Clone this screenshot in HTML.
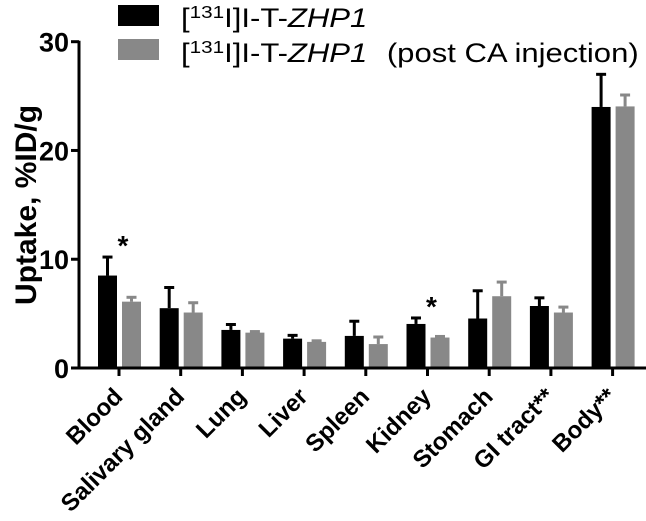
<!DOCTYPE html>
<html><head><meta charset="utf-8"><style>
body{margin:0;background:#fff;}
svg text{font-family:"Liberation Sans",Arial,sans-serif;}
</style></head><body>
<svg id="chart" width="646" height="516">
<g id="plot"></g>
</svg>
<script>
const categories=["Blood","Salivary gland","Lung","Liver","Spleen","Kidney","Stomach","GI tract**","Body**"];
const seriesA=[8.5,5.5,3.5,2.7,2.95,4.05,4.55,5.7,24.0];
const errA=[1.7,1.9,0.5,0.3,1.35,0.55,2.55,0.75,3.0];
const seriesB=[6.1,5.1,3.25,2.4,2.2,2.8,6.6,5.1,24.05];
const errB=[0.4,0.9,0.1,0.1,0.65,0.1,1.3,0.5,1.05];
const yTicks=[0,10,20,30];
const starCats=["Blood","Kidney"];
const NS="http://www.w3.org/2000/svg";
const g=document.getElementById('plot');
const y0=368,y30=41.7;
function y(v){return y0-(v/30)*(y0-y30);}
function x(i){return 119+i*61.7;}
function mk(t,a,p){const e=document.createElementNS(NS,t);for(const k in a)e.setAttribute(k,a[k]);(p||g).appendChild(e);return e;}
categories.forEach((c,i)=>{
  [[seriesA,errA,"#000",-21],[seriesB,errB,"#888",3]].forEach(([s,er,col,off],j)=>{
    const bx=x(i)+off,w=19,cx=bx+w/2;
    const r=mk('rect',{x:bx,y:y(s[i]),width:w,height:y0-y(s[i]),fill:col});
    
    
    const l=mk('line',{x1:cx,x2:cx,y1:y(s[i]),y2:y(s[i]+er[i]),stroke:col,'stroke-width':3});
    
    
    const cp=mk('line',{x1:cx-5,x2:cx+5,y1:y(s[i]+er[i]),y2:y(s[i]+er[i]),stroke:col,'stroke-width':3});
    
    
  });
  const tk=mk('line',{x1:x(i),x2:x(i),y1:y0,y2:y0+8,stroke:"#000",'stroke-width':3});
  
  
  const t=mk('text',{transform:`translate(${x(i)+5},${y0+30}) rotate(-45)`,'text-anchor':'end','font-size':24,'font-weight':'bold'});
  t.textContent=c;
  
  
  if(starCats.includes(c)){
    const s=mk('text',{x:x(i)+4,y:y(Math.max(seriesA[i]+errA[i],seriesB[i]+errB[i]))-2,'font-size':28,'font-weight':'bold','text-anchor':'middle'});
    s.textContent='*';
    
    
  }
});
const ya=mk('line',{x1:79,x2:79,y1:y30-1,y2:y0+1.5,stroke:"#000",'stroke-width':3});


const xa=mk('line',{x1:77.5,x2:646,y1:y0,y2:y0,stroke:"#000",'stroke-width':3});


yTicks.forEach(v=>{
  const tk=mk('line',{x1:71,x2:79,y1:y(v),y2:y(v),stroke:"#000",'stroke-width':3});
  
  
  const t=mk('text',{x:69,y:y(v)+10,'text-anchor':'end','font-size':27,'font-weight':'bold'});
  t.textContent=v;
  
  
});
const yt=mk('text',{transform:'translate(36,205) rotate(-90)','text-anchor':'middle','font-size':30,'font-weight':'bold'});
yt.textContent='Uptake, %ID/g';


const lg=mk('g',{});


const b1=mk('rect',{x:118,y:5,width:41,height:21,fill:'#000'},lg);


const b2=mk('rect',{x:118,y:39,width:41,height:21,fill:'#888'},lg);


const t1=mk('text',{transform:'translate(181,27) scale(1.15,1)','font-size':27},lg);
t1.innerHTML='[<tspan dy="-9" font-size="18">131</tspan><tspan dy="9">I]I-T-</tspan><tspan font-style="italic">ZHP1</tspan>';


const t2=mk('text',{transform:'translate(181,62) scale(1.15,1)','font-size':27},lg);
t2.innerHTML='[<tspan dy="-9" font-size="18">131</tspan><tspan dy="9">I]I-T-</tspan><tspan font-style="italic">ZHP1</tspan><tspan x="179">(post CA injection)</tspan>';


</script>
</body></html>
